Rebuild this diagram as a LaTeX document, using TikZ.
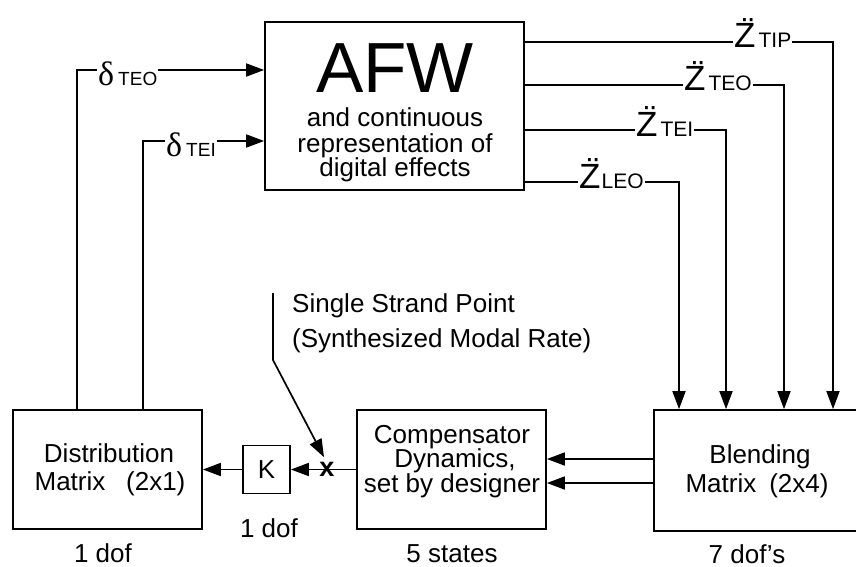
\documentclass[tikz,border=0pt]{standalone}
\usepackage{fontspec}
\setmainfont{Liberation Sans}
\newfontfamily\deltafont{Liberation Serif}
\usetikzlibrary{arrows.meta,calc}
\begin{document}
\begin{tikzpicture}[x=1pt,y=-1pt,
  box/.style={draw,line width=1.7pt,inner sep=0pt},
  txt/.style={inner sep=0pt,anchor=base,font=\fontsize{26}{26}\selectfont},
  conn/.style={line width=1.7pt},
  arr/.style={conn,-{Triangle[length=18pt,width=13pt]}},
  zl/.style={inner sep=1pt,anchor=base west,font=\fontsize{35}{35}\selectfont},
  dl/.style={inner sep=1pt,anchor=base west},
]
\useasboundingbox (0,0) rectangle (856,567);

% boxes
\node[box,minimum width=259pt,minimum height=168pt] (afw) at (394.5,106) {};
\node[box,minimum width=189pt,minimum height=119pt] (dist) at (107.5,469.5) {};
\node[box,minimum width=47pt,minimum height=48pt,font=\fontsize{26}{26}\selectfont] (K) at (266.5,469.5) {K};
\node[box,minimum width=189pt,minimum height=119pt] (comp) at (451.5,469.5) {};
\node[box,minimum width=231pt,minimum height=121pt] (blend) at (769.5,470.5) {};

% box texts
\node[inner sep=0pt,anchor=base,font=\fontsize{71}{71}\selectfont] (afwt) at (395,93) {AFW};
\node[txt] (afw1) at (395,127) {and continuous};
\node[txt] (afw2) at (395,152) {representation of};
\node[txt] (afw3) at (395,176) {digital effects};

\node[txt] (dist1) at (109,462) {Distribution};
\node[txt] (dist2) at (110,490) {Matrix\hspace{0.8em}(2x1)};

\node[txt] (comp1) at (452,443) {Compensator};
\node[txt] (comp2) at (455,467) {Dynamics,};
\node[txt] (comp3) at (452,492) {set by designer};

\node[txt] (blend1) at (760,463) {Blending};
\node[txt] (blend2) at (757,492) {Matrix\hspace{0.5em}(2x4)};

% captions
\node[txt] (capK) at (269,537) {1 dof};
\node[txt] (capD) at (103,562) {1 dof};
\node[txt] (capC) at (452,562) {5 states};
\node[txt] (capB) at (747,563) {7 dof's};

\node[txt,anchor=base west] (ss1t) at (292,312) {Single Strand Point};
\node[txt,anchor=base west] (ss2t) at (292,347) {(Synthesized Modal Rate)};

% output labels
\node[zl] (ztip) at (733,48) {\"Z\hspace{3pt}{\fontsize{21}{21}\selectfont TIP}};
\node[zl] (zteo) at (683,91) {\"Z\hspace{3pt}{\fontsize{21}{21}\selectfont TEO}};
\node[zl] (ztei) at (635,136) {\"Z\hspace{3pt}{\fontsize{21}{21}\selectfont TEI}};
\node[zl] (zleo) at (578,188) {\"Z\hspace{1pt}{\fontsize{21}{21}\selectfont LEO}};

\coordinate (tipy) at (833,42);
\coordinate (teoy) at (784,85);
\coordinate (teiy) at (726,130);
\coordinate (leoy) at (679,182);

\draw[conn] (afw.east |- tipy) -- (ztip.west |- tipy);
\draw[arr] (ztip.east |- tipy) -| (blend.north -| tipy);
\draw[conn] (afw.east |- teoy) -- (zteo.west |- teoy);
\draw[arr] (zteo.east |- teoy) -| (blend.north -| teoy);
\draw[conn] (afw.east |- teiy) -- (ztei.west |- teiy);
\draw[arr] (ztei.east |- teiy) -| (blend.north -| teiy);
\draw[conn] (afw.east |- leoy) -- (zleo.west |- leoy);
\draw[arr] (zleo.east |- leoy) -| (blend.north -| leoy);

% input labels
\node[dl] (dteo) at (97,86) {{\deltafont\fontsize{34}{34}\selectfont δ}\hspace{4pt}{\fontsize{19}{19}\selectfont TEO}};
\node[dl] (dtei) at (165,157) {{\deltafont\fontsize{34}{34}\selectfont δ}\hspace{4pt}{\fontsize{19}{19}\selectfont TEI}};

\coordinate (teoc) at (77,70);
\coordinate (teic) at (143,141);

\draw[conn] (dist.north -| teoc) -- (teoc) -- (dteo.west |- teoc);
\draw[arr] (dteo.east |- teoc) -- (afw.west |- teoc);
\draw[conn] (dist.north -| teic) -- (teic) -- (dtei.west |- teic);
\draw[arr] (dtei.east |- teic) -- (afw.west |- teic);

% blending to compensator
\coordinate (b1) at (0,459);
\coordinate (b2) at (0,483);
\draw[arr] (blend.west |- b1) -- (comp.east |- b1);
\draw[arr] (blend.west |- b2) -- (comp.east |- b2);

% compensator to K to distribution
\draw[arr] (comp.west) -- (K.east);
\draw[arr] (K.west) -- (dist.east);
\node[inner sep=1pt,font=\bfseries\fontsize{27}{27}\selectfont] (xmark) at (327,469.5) {x};

% single strand arrow
\coordinate (ss0) at (273,293);
\coordinate (ss1) at (273,360);
\draw[arr] (ss0) -- (ss1) -- ([shift={(-3,-4)}]xmark.north);
\end{tikzpicture}
\end{document}
